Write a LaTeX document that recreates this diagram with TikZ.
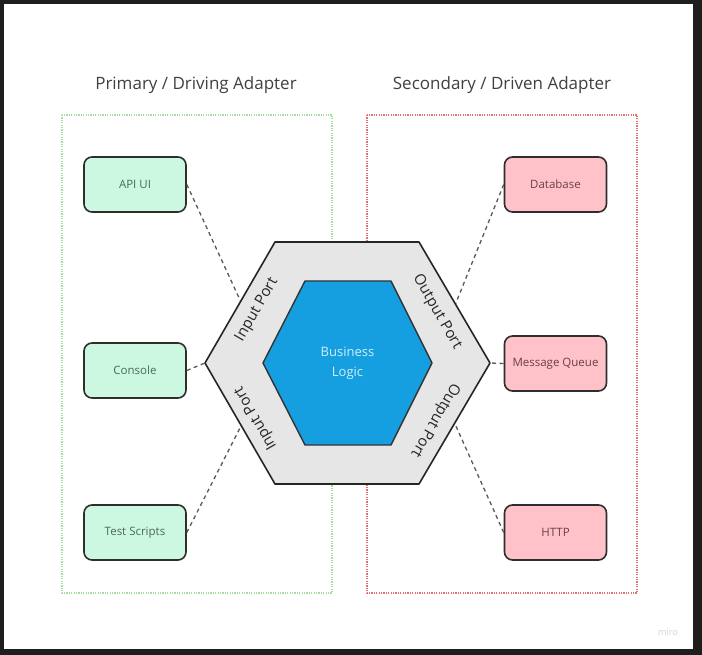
\documentclass[tikz,border=0pt]{standalone}
\usepackage{fontspec}
\setmainfont{Open Sans}
\definecolor{frame}{HTML}{1E1E1E}
\definecolor{titletext}{HTML}{404040}
\definecolor{boxline}{HTML}{2E2E2E}
\definecolor{drivingfill}{HTML}{CCF7E0}
\definecolor{drivingtext}{HTML}{4A6B58}
\definecolor{drivenfill}{HTML}{FFC2C8}
\definecolor{driventext}{HTML}{6E3E46}
\definecolor{drivingdots}{HTML}{A3E0A0}
\definecolor{drivendots}{HTML}{E07070}
\definecolor{portfill}{HTML}{E6E6E6}
\definecolor{logicblue}{HTML}{169FE0}
\definecolor{logictext}{HTML}{CDEFFA}
\definecolor{linkgray}{HTML}{5A5A5A}
\begin{document}
\begin{tikzpicture}[x=1pt,y=-1pt,
  drivingbox/.style={draw=boxline, line width=1.6pt, rounded corners=8pt,
    fill=drivingfill, text=drivingtext, minimum width=102pt, minimum height=55pt,
    font=\fontsize{11.5}{13}\selectfont},
  drivenbox/.style={drivingbox, fill=drivenfill, text=driventext},
  sidetitle/.style={text=titletext, font=\fontsize{17}{20}\selectfont},
  portlabel/.style={text=black!85, font=\fontsize{15}{17}\selectfont},
  link/.style={draw=linkgray, line width=1.3pt, dash pattern=on 4pt off 3.5pt}]

  % Screen frame
  \fill[frame] (0,0) rectangle (702,655);
  \fill[white] (4,4) rectangle (693,649);
  \useasboundingbox (0,0) rectangle (702,655);

  % Adapter areas
  \draw[drivingdots, line width=1.3pt, dash pattern=on 1.2pt off 1.2pt] (62,115) rectangle (332,593);
  \draw[drivendots, line width=1.3pt, dash pattern=on 1.2pt off 1.2pt] (367,115) rectangle (637,593);
  \node[sidetitle] (primary) at (196,85) {Primary / Driving Adapter};
  \node[sidetitle] (secondary) at (502,85) {Secondary / Driven Adapter};

  % Adapters
  \foreach \name/\y/\txt in {api/184.5/API UI, console/370.5/Console, tests/532.5/Test Scripts}
    \node[drivingbox] (\name) at (135,\y) {\txt};
  \foreach \name/\y/\txt in {db/184.5/Database, queue/363.5/Message Queue, http/532.5/HTTP}
    \node[drivenbox] (\name) at (555.5,\y) {\txt};

  % Port ends
  \coordinate (inTop) at (240.5,301);
  \coordinate (inMid) at (205,363);
  \coordinate (inLow) at (241,426);
  \coordinate (outTop) at (455.5,304);
  \coordinate (outMid) at (490,363);
  \coordinate (outLow) at (455,424);

  % Connections
  \draw[link] (api.east) -- (inTop);
  \draw[link] (console.east) -- (inMid);
  \draw[link] (tests.east) -- (inLow);
  \draw[link] (db.west) -- (outTop);
  \draw[link] (queue.west) -- (outMid);
  \draw[link] (http.west) -- (outLow);

  % Ports hexagon
  \draw[black!85, line width=1.6pt, fill=portfill, line join=round]
    (205,363) -- (275,242) -- (419,242) -- (490,363) -- (419,484) -- (275,484) -- cycle;
  \node[portlabel, rotate=60] (inPortA) at (257,310) {Input Port};
  \node[portlabel, rotate=120] (inPortB) at (256,418) {Input Port};
  \node[portlabel, rotate=-60] (outPortA) at (437,312) {Output Port};
  \node[portlabel, rotate=-120] (outPortB) at (435,420) {Output Port};

  % Business logic
  \draw[black!80, line width=1.4pt, fill=logicblue, line join=round]
    (263,363) -- (305,281) -- (391,281) -- (432,363) -- (391,445) -- (305,445) -- cycle;
  \node[text=logictext, align=center, font=\fontsize{13}{20}\selectfont] (logic) at (347.5,363) {Business\\Logic};

  % Watermark
  \node[text=black!18, font=\fontsize{9}{10}\selectfont] (miro) at (668,632) {miro};
\end{tikzpicture}
\end{document}
